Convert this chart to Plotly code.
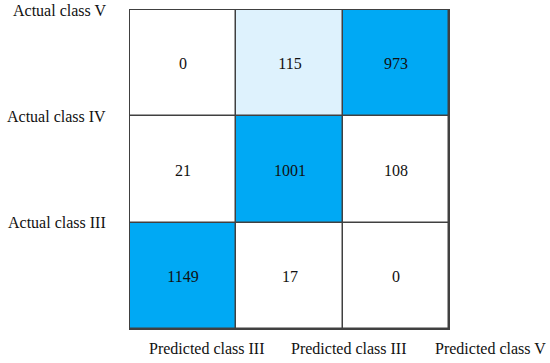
import plotly.graph_objects as go

actual_labels = ["Actual class III", "Actual class IV", "Actual class V"]   # bottom -> top
predicted_labels = ["Predicted class III", "Predicted class III", "Predicted class V"]
counts = [
    [1149, 17, 0],     # Actual class III
    [21, 1001, 108],   # Actual class IV
    [0, 115, 973],     # Actual class V
]
# shading level of each cell: 0 = white, 1 = light blue, 2 = strong blue
shade = [
    [2, 0, 0],
    [0, 2, 0],
    [0, 1, 2],
]

FONT = "Liberation Serif, Times New Roman, serif"

fig = go.Figure(go.Heatmap(
    z=shade,
    x=[0, 1, 2],
    y=[0, 1, 2],
    text=[[str(v) for v in row] for row in counts],
    texttemplate="%{text}",
    textfont=dict(family=FONT, size=16, color="#111111"),
    colorscale=[[0, "#ffffff"], [0.25, "#ffffff"], [0.25, "#def2fd"], [0.75, "#def2fd"],
                [0.75, "#00a9f4"], [1, "#00a9f4"]],
    zmin=0, zmax=2,
    showscale=False,
    xgap=1.5, ygap=1.5,
    hoverinfo="skip",
))

fig.update_xaxes(range=[-0.5, 2.5], showticklabels=False, showgrid=False, zeroline=False,
                 showline=True, mirror=True, linecolor="#404040", linewidth=1, fixedrange=True)
fig.update_yaxes(range=[-0.5, 2.5], showticklabels=False, showgrid=False, zeroline=False,
                 showline=True, mirror=True, linecolor="#404040", linewidth=1, fixedrange=True)

# row labels at top edge of each row
for i, lab in enumerate(actual_labels):
    fig.add_annotation(x=-0.069, xref="paper", xanchor="right", y=i + 0.5, yref="y",
                       yanchor="middle", text=lab, showarrow=False,
                       font=dict(family=FONT, size=16, color="#111111"))
# column labels under the grid (paper x positions of label centres)
label_x = [0.242, 0.687, 1.129]
for xp, lab in zip(label_x, predicted_labels):
    fig.add_annotation(x=xp, xref="paper", xanchor="center", y=-0.06, yref="paper",
                       yanchor="middle", text=lab, showarrow=False,
                       font=dict(family=FONT, size=16, color="#111111"))

fig.update_layout(
    width=550, height=363,
    margin=dict(l=130, r=101, t=10, b=34),
    paper_bgcolor="white", plot_bgcolor="#404040",
    showlegend=False,
)
fig.write_html("out.html", config={"displayModeBar": False},
               post_script="document.body.style.margin='0';")
